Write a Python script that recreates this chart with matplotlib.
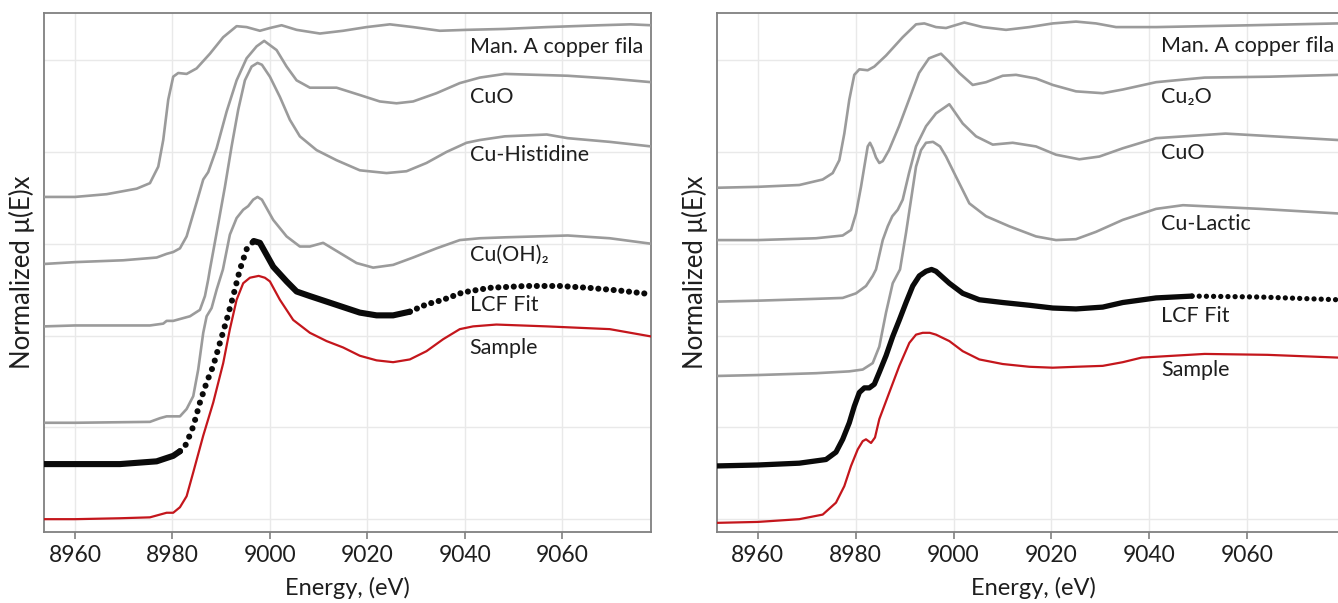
import numpy as np
import matplotlib
matplotlib.use("Agg")
import matplotlib.pyplot as plt

plt.rcParams['font.family'] = ['Lato', 'DejaVu Sans']

# ---------------- data (energy in eV, normalized mu(E)x with vertical offsets) -------------
# Left panel
E_L_man = [8953.7, 8960.0, 8966.5, 8972.66, 8975.38, 8977.09, 8978.11, 8979.14, 8980.16, 8981.19, 8982.91, 8984.96, 8987.69, 8990.42, 8993.17, 8995.22, 8997.95, 9000.0, 9002.4, 9005.48, 9010.26, 9015.04, 9019.84, 9024.62, 9029.39, 9034.87, 9040.35, 9048.21, 9056.82, 9067.69, 9074.05, 9078.26]
Y_L_man = [3.51, 3.51, 3.54, 3.60, 3.66, 3.84, 4.13, 4.57, 4.82, 4.86, 4.85, 4.91, 5.07, 5.25, 5.37, 5.36, 5.32, 5.35, 5.38, 5.33, 5.29, 5.32, 5.36, 5.39, 5.36, 5.32, 5.33, 5.34, 5.36, 5.38, 5.39, 5.38]

E_L_cuo = [8953.7, 8960.0, 8969.91, 8976.76, 8978.81, 8980.16, 8981.54, 8982.91, 8984.96, 8986.32, 8987.34, 8989.07, 8991.12, 8993.17, 8995.22, 8997.27, 8998.83, 9001.37, 9003.43, 9005.48, 9008.21, 9010.26, 9013.68, 9018.46, 9022.56, 9025.99, 9029.39, 9034.19, 9038.97, 9043.08, 9048.21, 9061.13, 9069.74, 9078.26]
Y_L_cuo = [2.78, 2.80, 2.82, 2.85, 2.89, 2.91, 2.95, 3.08, 3.45, 3.70, 3.78, 4.04, 4.44, 4.78, 5.02, 5.15, 5.21, 5.11, 4.93, 4.78, 4.70, 4.70, 4.70, 4.62, 4.55, 4.53, 4.55, 4.64, 4.75, 4.81, 4.85, 4.83, 4.80, 4.76]

E_L_his = [8953.7, 8960.0, 8975.38, 8978.11, 8978.81, 8980.16, 8983.59, 8985.64, 8986.67, 8987.34, 8987.69, 8989.07, 8990.77, 8992.14, 8993.5, 8994.87, 8996.25, 8997.46, 8998.36, 9000.0, 9002.05, 9004.1, 9006.15, 9009.58, 9013.68, 9018.46, 9023.94, 9028.04, 9032.14, 9036.24, 9040.35, 9043.08, 9048.21, 9056.82, 9061.13, 9069.74, 9078.26]
Y_L_his = [2.10, 2.11, 2.11, 2.13, 2.16, 2.16, 2.21, 2.28, 2.43, 2.61, 2.72, 3.12, 3.62, 4.06, 4.46, 4.78, 4.93, 4.97, 4.95, 4.82, 4.60, 4.35, 4.17, 4.02, 3.91, 3.80, 3.77, 3.79, 3.88, 4.00, 4.10, 4.13, 4.17, 4.19, 4.15, 4.11, 4.06]

E_L_oh = [8953.7, 8960.0, 8975.38, 8977.44, 8978.81, 8981.54, 8982.91, 8984.27, 8985.29, 8986.32, 8987.02, 8988.04, 8989.07, 8990.36, 8991.79, 8993.17, 8994.52, 8995.55, 8996.57, 8997.46, 8998.36, 9000.68, 9003.43, 9006.15, 9008.21, 9010.93, 9014.36, 9017.79, 9021.19, 9025.29, 9029.39, 9034.19, 9038.97, 9043.08, 9048.21, 9061.13, 9069.74, 9078.26]
Y_L_oh = [1.05, 1.05, 1.06, 1.10, 1.12, 1.12, 1.20, 1.34, 1.63, 2.03, 2.21, 2.30, 2.50, 2.72, 3.10, 3.28, 3.37, 3.41, 3.48, 3.51, 3.48, 3.26, 3.08, 2.97, 2.97, 3.01, 2.90, 2.79, 2.74, 2.77, 2.85, 2.95, 3.04, 3.06, 3.07, 3.09, 3.06, 3.00]

E_L_fit = [8953.7, 8960.0, 8969.23, 8976.76, 8980.16, 8981.54, 8982.22, 8982.91, 8984.27, 8985.64, 8987.02, 8988.37, 8989.74, 8991.12, 8992.47, 8993.85, 8995.22, 8996.68, 8997.95, 9000.68, 9003.43, 9005.48, 9008.21, 9011.63, 9015.04, 9018.46, 9021.89, 9025.29, 9028.72, 9032.14, 9035.55, 9039.59, 9045.13, 9052.51, 9059.49, 9065.44, 9071.79, 9078.26]
Y_L_fit = [0.60, 0.60, 0.60, 0.63, 0.69, 0.74, 0.76, 0.83, 1.01, 1.27, 1.49, 1.67, 1.92, 2.17, 2.43, 2.72, 2.94, 3.03, 3.01, 2.75, 2.59, 2.48, 2.43, 2.37, 2.31, 2.25, 2.22, 2.22, 2.26, 2.34, 2.39, 2.47, 2.52, 2.54, 2.54, 2.52, 2.49, 2.45]

E_L_smp = [8953.7, 8960.0, 8969.23, 8975.38, 8976.76, 8978.81, 8980.16, 8981.54, 8982.91, 8984.27, 8986.32, 8988.37, 8990.42, 8991.79, 8993.17, 8994.52, 8995.9, 8997.7, 8998.97, 9000.0, 9002.05, 9004.78, 9008.21, 9011.63, 9015.04, 9018.46, 9021.89, 9025.29, 9028.72, 9032.14, 9035.55, 9038.97, 9041.7, 9046.48, 9056.82, 9069.74, 9078.26]
Y_L_smp = [0.00, 0.00, 0.01, 0.02, 0.04, 0.07, 0.07, 0.13, 0.25, 0.51, 0.91, 1.27, 1.70, 2.07, 2.39, 2.57, 2.63, 2.65, 2.63, 2.59, 2.39, 2.17, 2.03, 1.94, 1.87, 1.78, 1.73, 1.71, 1.74, 1.83, 1.96, 2.07, 2.10, 2.12, 2.10, 2.07, 1.99]

# Right panel
E_R_man = [8951.69, 8960.0, 8968.5, 8973.28, 8975.32, 8976.67, 8977.69, 8978.71, 8979.73, 8980.76, 8982.47, 8983.82, 8986.21, 8989.62, 8992.34, 8994.04, 8996.42, 8998.47, 9002.21, 9005.96, 9010.72, 9015.49, 9020.27, 9025.02, 9029.11, 9033.2, 9041.37, 9060.57, 9078.55]
Y_R_man = [3.61, 3.62, 3.64, 3.70, 3.77, 3.91, 4.20, 4.57, 4.84, 4.90, 4.89, 4.93, 5.05, 5.25, 5.39, 5.40, 5.36, 5.35, 5.41, 5.36, 5.33, 5.36, 5.40, 5.42, 5.40, 5.36, 5.36, 5.38, 5.40]

E_R_cu2o = [8951.69, 8960.0, 8971.91, 8977.36, 8979.06, 8980.08, 8981.1, 8981.78, 8982.47, 8982.94, 8983.49, 8984.16, 8984.84, 8985.54, 8986.82, 8988.87, 8990.91, 8992.95, 8994.99, 8996.42, 8997.44, 8999.14, 9001.18, 9003.92, 9006.64, 9010.05, 9012.77, 9016.85, 9020.27, 9025.02, 9030.48, 9034.57, 9041.37, 9051.28, 9064.66, 9078.55]
Y_R_cu2o = [3.04, 3.04, 3.06, 3.09, 3.15, 3.33, 3.62, 3.84, 4.06, 4.10, 4.04, 3.94, 3.88, 3.90, 4.02, 4.28, 4.57, 4.86, 5.02, 5.05, 5.07, 4.98, 4.86, 4.73, 4.76, 4.83, 4.84, 4.80, 4.73, 4.66, 4.64, 4.68, 4.76, 4.81, 4.82, 4.84]

E_R_cuo = [8951.69, 8960.0, 8971.91, 8977.36, 8980.08, 8982.12, 8983.49, 8984.16, 8985.54, 8986.56, 8987.5, 8988.6, 8989.62, 8990.91, 8992.34, 8994.38, 8996.42, 8999.14, 9001.88, 9004.6, 9008.01, 9012.09, 9016.85, 9020.94, 9025.7, 9029.79, 9034.57, 9041.37, 9055.57, 9078.55]
Y_R_cuo = [2.37, 2.38, 2.40, 2.41, 2.46, 2.54, 2.65, 2.72, 3.04, 3.19, 3.30, 3.37, 3.48, 3.77, 4.06, 4.28, 4.42, 4.52, 4.31, 4.17, 4.08, 4.10, 4.06, 3.97, 3.92, 3.95, 4.04, 4.15, 4.20, 4.13]

E_R_lac = [8951.69, 8960.0, 8971.91, 8978.71, 8981.45, 8983.49, 8984.84, 8986.21, 8987.58, 8989.07, 8990.3, 8991.32, 8992.34, 8993.36, 8994.38, 8995.81, 8997.24, 8998.47, 9000.51, 9003.23, 9006.64, 9011.4, 9016.85, 9020.94, 9025.02, 9029.11, 9034.57, 9041.37, 9046.88, 9062.61, 9078.55]
Y_R_lac = [1.56, 1.57, 1.59, 1.61, 1.63, 1.70, 1.88, 2.25, 2.57, 2.72, 3.12, 3.48, 3.84, 4.02, 4.10, 4.11, 4.06, 3.95, 3.73, 3.44, 3.30, 3.19, 3.08, 3.04, 3.05, 3.13, 3.26, 3.38, 3.42, 3.38, 3.33]

E_R_fit = [8951.69, 8960.0, 8968.5, 8973.95, 8975.99, 8977.36, 8978.71, 8979.73, 8980.76, 8981.78, 8982.8, 8983.82, 8984.84, 8986.21, 8987.58, 8988.93, 8990.3, 8991.67, 8993.01, 8994.38, 8995.51, 8996.42, 8999.14, 9001.88, 9005.27, 9010.05, 9015.49, 9020.27, 9025.02, 9030.48, 9034.57, 9041.37, 9048.72, 9062.61, 9078.55]
Y_R_fit = [0.58, 0.59, 0.61, 0.65, 0.73, 0.87, 1.05, 1.23, 1.38, 1.43, 1.43, 1.47, 1.60, 1.78, 1.99, 2.17, 2.36, 2.54, 2.65, 2.70, 2.72, 2.70, 2.57, 2.46, 2.39, 2.36, 2.33, 2.30, 2.29, 2.31, 2.36, 2.41, 2.43, 2.42, 2.39]

E_R_smp = [8951.69, 8960.0, 8968.5, 8973.28, 8975.99, 8977.69, 8979.06, 8980.43, 8981.45, 8982.12, 8983.15, 8983.96, 8984.84, 8986.88, 8988.93, 8990.97, 8992.34, 8993.71, 8995.14, 8996.42, 8999.14, 9001.88, 9005.27, 9010.05, 9015.49, 9020.27, 9025.02, 9030.48, 9034.57, 9038.43, 9051.3, 9064.15, 9078.55]
Y_R_smp = [-0.04, -0.03, 0.00, 0.05, 0.18, 0.36, 0.58, 0.76, 0.85, 0.87, 0.83, 0.89, 1.09, 1.38, 1.67, 1.92, 2.01, 2.03, 2.03, 2.01, 1.94, 1.83, 1.74, 1.69, 1.66, 1.65, 1.66, 1.67, 1.71, 1.76, 1.80, 1.79, 1.76]

labels_L = ["Man. A copper fila", "CuO", "Cu-Histidine", "Cu(OH)₂", "LCF Fit", "Sample"]
label_y_L = [5.14, 4.60, 3.97, 2.88, 2.33, 1.86]
labels_R = ["Man. A copper fila", "Cu₂O", "CuO", "Cu-Lactic", "LCF Fit", "Sample"]
label_y_R = [5.15, 4.60, 3.99, 3.21, 2.21, 1.62]
x_ticks = [8960, 8980, 9000, 9020, 9040, 9060]

# ---------------- styling ----------------
GRAY = '#9b9b9b'
RED = '#c4161c'
BLACK = '#0a0a0a'
FRAME = '#808080'
TXT = '#1e1e1e'

fig = plt.figure(figsize=(13.38, 6.03), dpi=100)
axL = fig.add_axes([0.0331, 0.1177, 0.4534, 0.8602])
axR = fig.add_axes([0.5359, 0.1177, 0.4731, 0.8602])


def style(ax, xlim):
    ax.set_xlim(*xlim)
    ax.set_ylim(-0.14, 5.51)
    ax.set_xticks(x_ticks)
    ax.set_yticks([0, 1, 2, 3, 4, 5])
    ax.set_yticklabels([])
    ax.tick_params(axis='y', length=0)
    ax.tick_params(axis='x', length=5, width=1.2, color=FRAME, labelsize=16.5,
                   labelcolor=TXT, pad=4)
    ax.grid(True, color='#e9e9e9', lw=1.0)
    ax.set_axisbelow(True)
    for s in ax.spines.values():
        s.set_color(FRAME)
        s.set_linewidth(1.3)
    ax.set_xlabel('Energy, (eV)', fontsize=17, color=TXT, labelpad=8)
    ax.set_ylabel('Normalized μ(E)x', fontsize=18.5, color=TXT, labelpad=3)


def seg(E, Y, lo, hi):
    E = np.asarray(E); Y = np.asarray(Y)
    m = (E >= lo) & (E <= hi)
    return E[m], Y[m]


def fit_line(ax, E, Y, solid_ranges, dotted_ranges, lw):
    for lo, hi in solid_ranges:
        e, y = seg(E, Y, lo, hi)
        ax.plot(e, y, color=BLACK, lw=lw, solid_capstyle='round', solid_joinstyle='round', zorder=4)
    for lo, hi, gap in dotted_ranges:
        e, y = seg(E, Y, lo, hi)
        ax.plot(e, y, color=BLACK, lw=lw, linestyle=(0, (0.01, gap)),
                dash_capstyle='round', zorder=4)


# Left panel
style(axL, (8953.7, 9078.2))
for E, Y in [(E_L_man, Y_L_man), (E_L_cuo, Y_L_cuo), (E_L_his, Y_L_his), (E_L_oh, Y_L_oh)]:
    axL.plot(E, Y, color=GRAY, lw=1.9, solid_joinstyle='round', zorder=3)
axL.plot(E_L_smp, Y_L_smp, color=RED, lw=1.6, solid_joinstyle='round', zorder=3)
fit_line(axL, E_L_fit, Y_L_fit,
         solid_ranges=[(8953.0, 8981.54), (8996.68, 9028.72)],
         dotted_ranges=[(8981.54, 8996.68, 1.45), (9028.72, 9079.0, 1.25)], lw=4.4)
for t, y in zip(labels_L, label_y_L):
    axL.text(9041.0, y, t, fontsize=15.5, color=TXT, va='center', ha='left', clip_on=True, zorder=5)

# Right panel
style(axR, (8951.69, 9081.0))
for E, Y in [(E_R_man, Y_R_man), (E_R_cu2o, Y_R_cu2o), (E_R_cuo, Y_R_cuo), (E_R_lac, Y_R_lac)]:
    axR.plot(E, Y, color=GRAY, lw=1.9, solid_joinstyle='round', zorder=3)
axR.plot(E_R_smp, Y_R_smp, color=RED, lw=1.6, solid_joinstyle='round', zorder=3)
fit_line(axR, E_R_fit, Y_R_fit,
         solid_ranges=[(8951.0, 9048.72)],
         dotted_ranges=[(9048.72, 9081.0, 1.35)], lw=3.8)
for t, y in zip(labels_R, label_y_R):
    axR.text(9042.4, y, t, fontsize=15.5, color=TXT, va='center', ha='left', clip_on=True, zorder=5)

fig.savefig('out.png', dpi=100)
